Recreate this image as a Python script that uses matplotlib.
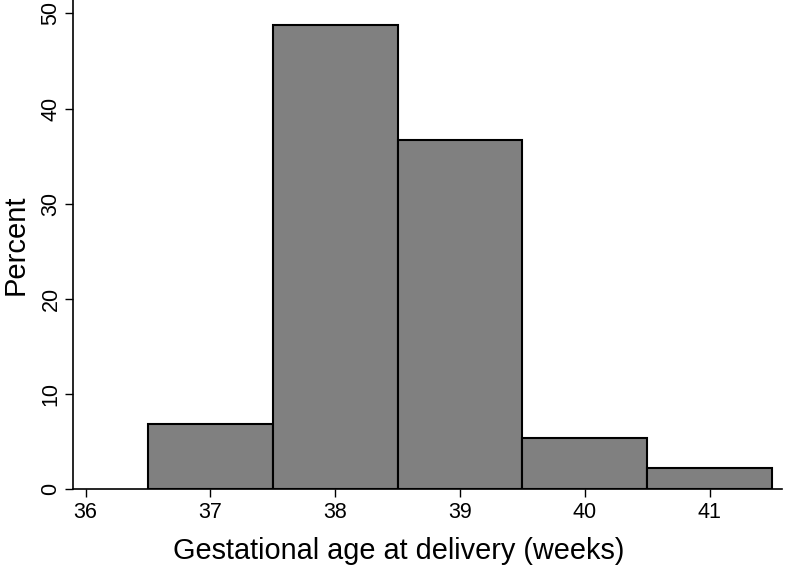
import matplotlib
matplotlib.use("Agg")
from matplotlib import pyplot as plt

# data
weeks = [37, 38, 39, 40, 41]
percent = [6.9, 48.8, 36.7, 5.4, 2.2]
x_ticks = [36, 37, 38, 39, 40, 41]
y_ticks = [0, 10, 20, 30, 40, 50]

plt.rcParams['font.family'] = ['Liberation Sans', 'DejaVu Sans']

fig = plt.figure(figsize=(7.86, 5.67), dpi=100)
ax = fig.add_axes([0.093, 0.137, 0.902, 0.863])

ax.bar(weeks, percent, width=1.0, color='#808080', edgecolor='black', linewidth=1.5)

ax.set_xlim(35.9, 41.58)
ax.set_ylim(0, 51.4)
ax.set_xticks(x_ticks)
ax.set_yticks(y_ticks)
ax.tick_params(axis='both', direction='out', length=5.8, width=1, labelsize=15.5)
ax.tick_params(axis='x', pad=3.6)
ax.tick_params(axis='y', pad=2.5)
for lbl in ax.get_yticklabels():
    lbl.set_rotation(90)
    lbl.set_va('center')

ax.spines['top'].set_visible(False)
ax.spines['right'].set_visible(False)
ax.spines['left'].set_linewidth(1.2)
ax.spines['bottom'].set_linewidth(1.2)

ax.set_xlabel("Gestational age at delivery (weeks)", fontsize=20.8)
ax.set_ylabel("Percent", fontsize=21)
ax.xaxis.set_label_coords(0.459, -0.097)
ax.yaxis.set_label_coords(-0.062, 0.5)

fig.savefig("out.png", dpi=100)
